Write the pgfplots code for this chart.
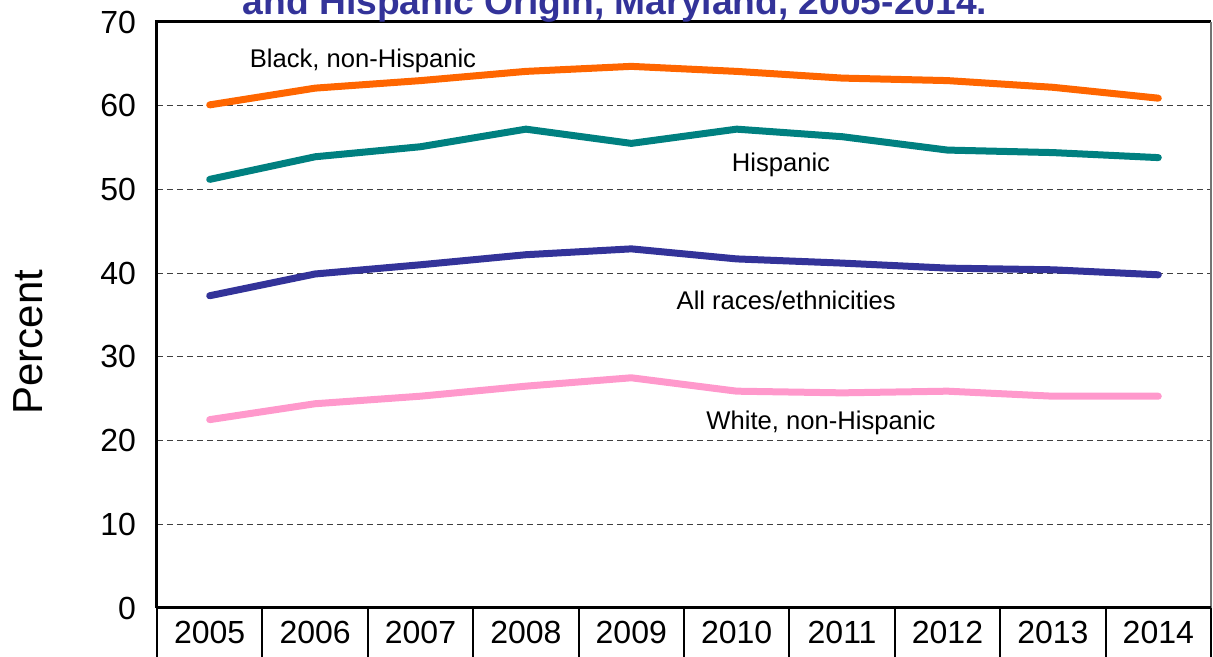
\documentclass[border=0pt]{standalone}
\usepackage{fontspec}
\setmainfont{Liberation Sans}
\usepackage{pgfplots}
\pgfplotsset{compat=1.18}
\usetikzlibrary{calc}
\definecolor{blackhisp}{HTML}{FF6600}
\definecolor{hisp}{HTML}{008080}
\definecolor{allraces}{HTML}{333399}
\definecolor{whitehisp}{HTML}{FF99CC}

\begin{document}
\begin{tikzpicture}
\begin{axis}[
    name=ax,
    scale only axis,
    width=527pt, height=293pt,
    xmin=-0.5, xmax=9.5,
    ymin=0, ymax=70,
    axis line style={draw=none},
    xtick pos=bottom,
    ytick pos=left,
    xtick={0,...,9},
    xticklabels={2005,2006,2007,2008,2009,2010,2011,2012,2013,2014},
    x tick label style={font=\fontsize{16}{19}\selectfont, yshift=-3pt},
    extra x ticks={-0.5,0.5,1.5,2.5,3.5,4.5,5.5,6.5,7.5,8.5,9.5},
    extra x tick labels={},
    extra x tick style={tick align=outside, major tick length=30pt,
        tick style={black, line width=1pt}, grid=none},
    ytick={0,10,...,70},
    y tick label style={font=\fontsize{16}{19}\selectfont, xshift=-7pt},
    /pgf/number format/assume math mode=true,
    major tick length=0pt,
    ymajorgrids,
    grid style={black!75, line width=0.6pt, dash pattern=on 3pt off 2pt},
    every axis plot/.append style={line width=3.5pt, line cap=round, line join=round},
    clip=false,
]
\addplot[color=blackhisp] coordinates {
    (0,60.1) (1,62.1) (2,63.0) (3,64.1) (4,64.7)
    (5,64.1) (6,63.3) (7,63.0) (8,62.2) (9,60.9)
};
\addplot[color=hisp] coordinates {
    (0,51.2) (1,53.9) (2,55.1) (3,57.2) (4,55.5)
    (5,57.2) (6,56.3) (7,54.7) (8,54.4) (9,53.8)
};
\addplot[color=allraces] coordinates {
    (0,37.3) (1,39.9) (2,41.0) (3,42.2) (4,42.9)
    (5,41.7) (6,41.2) (7,40.6) (8,40.4) (9,39.8)
};
\addplot[color=whitehisp] coordinates {
    (0,22.5) (1,24.4) (2,25.3) (3,26.5) (4,27.5)
    (5,25.9) (6,25.7) (7,25.9) (8,25.3) (9,25.3)
};
\node[font=\fontsize{12.8}{15}\selectfont] at (axis cs:1.454,65.3) {Black, non-Hispanic};
\node[font=\fontsize{12.8}{15}\selectfont] at (axis cs:5.42,52.9) {Hispanic};
\node[font=\fontsize{12.8}{15}\selectfont] at (axis cs:5.47,36.7) {All races/ethnicities};
\node[font=\fontsize{12.8}{15}\selectfont] at (axis cs:5.80,22.1) {White, non-Hispanic};
% frame
\draw[line width=1.5pt] (rel axis cs:0,0) -- (rel axis cs:0,1) -- (rel axis cs:1,1);
\draw[black!55, line width=0.6pt] (rel axis cs:1,1) -- (rel axis cs:1,0);
\draw[line width=1.5pt] (rel axis cs:0,0) -- (rel axis cs:1,0);
\end{axis}
\node[rotate=90, font=\fontsize{21}{25}\selectfont]
    at ($(ax.south west)+(-64.5pt,133pt)$) {Percent};
\node[anchor=base, font=\fontsize{18.6}{22}\selectfont\bfseries, color=allraces]
    at ($(ax.north west)+(229pt,3.5pt)$) {and Hispanic Origin, Maryland, 2005-2014.};
\pgfresetboundingbox
\path[use as bounding box] ($(ax.south west)+(-78.5pt,-24.5pt)$) rectangle ($(ax.north east)+(1pt,11pt)$);
\end{tikzpicture}
\end{document}
